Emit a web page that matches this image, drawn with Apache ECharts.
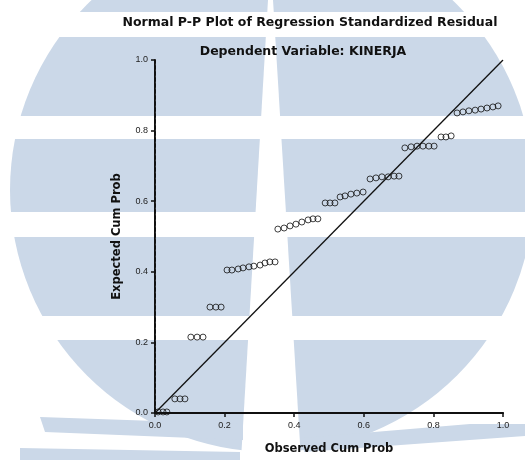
<!DOCTYPE html>
<html>
<head>
<meta charset="utf-8">
<style>
html,body{margin:0;padding:0;background:#fff;}
#c{width:525px;height:460px;}
</style>
<script src="https://cdn.jsdelivr.net/npm/echarts@6/dist/echarts.min.js"></script>
</head>
<body>
<div id="c"></div>
<script>
// ---- Data ----
const titleText = 'Normal P-P Plot of Regression Standardized Residual';
const subtitleText = 'Dependent Variable: KINERJA';
const xAxisName = 'Observed Cum Prob';
const yAxisName = 'Expected Cum Prob';
const tickValues = [0.0, 0.2, 0.4, 0.6, 0.8, 1.0];

// Observed cumulative probabilities
const observed = [
  0.009, 0.023, 0.034,
  0.057, 0.072, 0.086,
  0.103, 0.121, 0.138,
  0.158, 0.175, 0.190,
  0.207, 0.221, 0.239, 0.253, 0.270, 0.284, 0.302, 0.316, 0.330, 0.345,
  0.353, 0.371, 0.388, 0.405, 0.422, 0.440, 0.454, 0.468,
  0.489, 0.503, 0.517,
  0.532, 0.546, 0.563, 0.580, 0.598,
  0.618, 0.635, 0.652, 0.670, 0.687, 0.701,
  0.718, 0.736, 0.753, 0.770, 0.787, 0.802,
  0.822, 0.836, 0.851,
  0.868, 0.885, 0.902, 0.920, 0.937, 0.954, 0.971, 0.986
];
// Expected cumulative probabilities
const expected = [
  0.003, 0.003, 0.003,
  0.040, 0.040, 0.040,
  0.215, 0.215, 0.215,
  0.300, 0.300, 0.300,
  0.405, 0.405, 0.408, 0.411, 0.414, 0.416, 0.419, 0.425, 0.428, 0.428,
  0.521, 0.524, 0.530, 0.535, 0.541, 0.547, 0.550, 0.550,
  0.595, 0.595, 0.595,
  0.612, 0.615, 0.620, 0.623, 0.626,
  0.663, 0.666, 0.669, 0.669, 0.671, 0.671,
  0.751, 0.754, 0.756, 0.756, 0.756, 0.756,
  0.782, 0.782, 0.785,
  0.850, 0.853, 0.856, 0.858, 0.861, 0.864, 0.867, 0.870
];
// Reference diagonal
const diagX = [0, 1];
const diagY = [0, 1];

// ---- Chart ----
const points = observed.map((v, i) => [v, expected[i]]);
const diag = diagX.map((v, i) => [v, diagY[i]]);

const WM = '#cbd8e8';
const chart = echarts.init(document.getElementById('c'), null, {renderer: 'canvas'});

const bold = {fontFamily: 'DejaVu Sans, sans-serif', fontWeight: 'bold', color: '#111'};

chart.setOption({
  backgroundColor: '#fff',
  animation: false,
  graphic: [
    // faint watermark behind the chart
    {type: 'circle', z: -20, silent: true, shape: {cx: 272, cy: 190, r: 262}, style: {fill: WM}},
    {type: 'rect', z: -19, silent: true, shape: {x: 0, y: 12, width: 525, height: 25}, style: {fill: '#fff'}},
    {type: 'rect', z: -19, silent: true, shape: {x: 0, y: 116, width: 525, height: 23}, style: {fill: '#fff'}},
    {type: 'rect', z: -19, silent: true, shape: {x: 0, y: 212, width: 525, height: 25}, style: {fill: '#fff'}},
    {type: 'rect', z: -19, silent: true, shape: {x: 0, y: 316, width: 525, height: 24}, style: {fill: '#fff'}},
    {type: 'polygon', z: -19, silent: true, shape: {points: [[268,0],[273,0],[301,460],[241,460]]}, style: {fill: '#fff'}},
    {type: 'polygon', z: -18, silent: true, shape: {points: [[40,417],[243,424],[243,440],[45,432]]}, style: {fill: WM}},
    {type: 'polygon', z: -18, silent: true, shape: {points: [[20,448],[240,452],[240,460],[20,460]]}, style: {fill: WM}},
    {type: 'polygon', z: -18, silent: true, shape: {points: [[302,438],[470,424],[525,424],[525,436],[304,452]]}, style: {fill: WM}}
  ],
  title: [
    {text: titleText, left: 305, top: 11, textAlign: 'center',
     textStyle: Object.assign({fontSize: 12.5}, bold)},
    {text: subtitleText, left: 298, top: 40, textAlign: 'center',
     textStyle: Object.assign({fontSize: 12.5}, bold)}
  ],
  grid: {left: 155, right: 22, top: 60, bottom: 47, containLabel: false},
  xAxis: [
    {type: 'value', min: 0, max: 1, interval: 0.2, position: 'bottom',
     name: xAxisName, nameLocation: 'middle', nameGap: 30,
     nameTextStyle: Object.assign({fontSize: 11.5}, bold),
     axisLine: {show: true, lineStyle: {color: '#111', width: 2}},
     axisTick: {show: true, length: 4, lineStyle: {color: '#111', width: 1.5}},
     axisLabel: {margin: 8, fontSize: 9, color: '#222', fontFamily: 'Liberation Sans, Arial, sans-serif',
       formatter: v => v.toFixed(1)},
     splitLine: {show: false}},
    {type: 'value', min: 0, max: 1, position: 'top',
     axisLine: {show: true, lineStyle: {color: '#111', width: 1.5}},
     axisTick: {show: false}, axisLabel: {show: false}, splitLine: {show: false}}
  ],
  yAxis: [
    {type: 'value', min: 0, max: 1, interval: 0.2, position: 'left',
     name: yAxisName, nameLocation: 'middle', nameGap: 32, nameRotate: 90,
     nameTextStyle: Object.assign({fontSize: 11.5}, bold),
     axisLine: {show: true, lineStyle: {color: '#111', width: 2}},
     axisTick: {show: true, length: 4, lineStyle: {color: '#111', width: 1.5}},
     axisLabel: {margin: 7, fontSize: 9, color: '#222', fontFamily: 'Liberation Sans, Arial, sans-serif',
       formatter: v => v.toFixed(1)},
     splitLine: {show: false}},
    {type: 'value', min: 0, max: 1, position: 'right',
     axisLine: {show: true, lineStyle: {color: '#333', width: 1, type: [1, 5]}},
     axisTick: {show: false}, axisLabel: {show: false}, splitLine: {show: false}}
  ],
  series: [
    {type: 'line', data: diag, xAxisIndex: 0, yAxisIndex: 0, showSymbol: false, symbol: 'none',
     lineStyle: {color: '#111', width: 1.3}, z: 3},
    {type: 'scatter', data: points, xAxisIndex: 0, yAxisIndex: 0, symbol: 'circle', symbolSize: 6,
     itemStyle: {color: 'rgba(0,0,0,0)', borderColor: '#111', borderWidth: 1}, z: 4}
  ]
});
</script>
</body>
</html>
